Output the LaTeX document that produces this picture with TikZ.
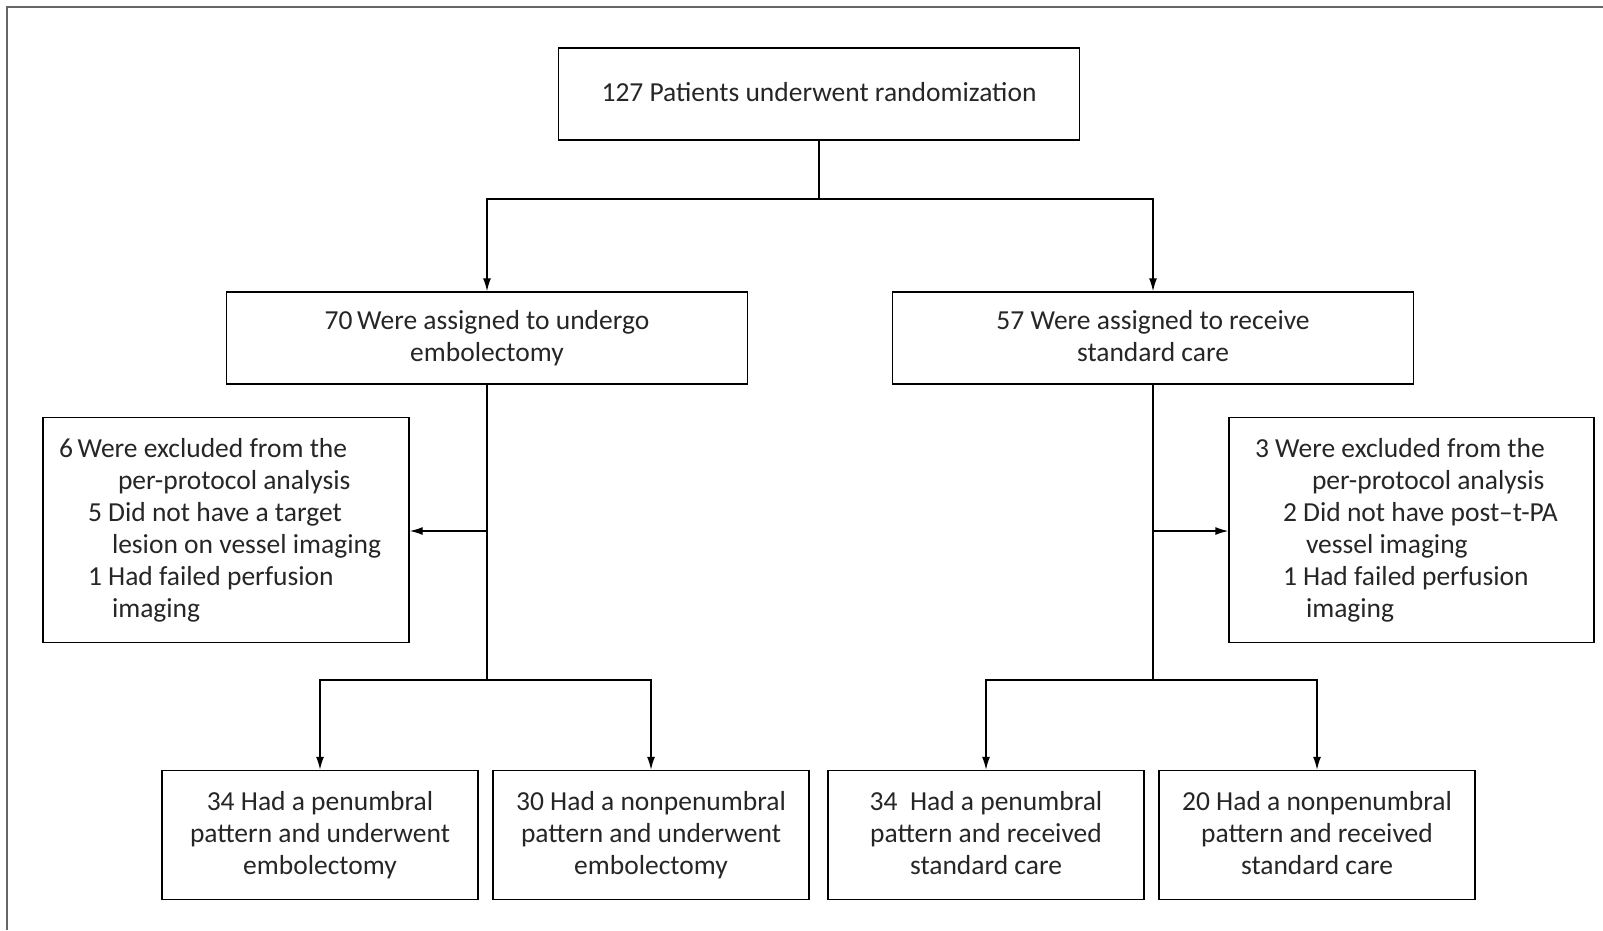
\documentclass[tikz,border=0pt]{standalone}
\usepackage{fontspec}
\setmainfont{Carlito}
\usetikzlibrary{arrows.meta}
\begin{document}
\begin{tikzpicture}[x=1pt,y=-1pt,
  box/.style={draw=black,line width=1.4pt,inner sep=0pt,align=center,font=\fontsize{27.5}{32}\selectfont,text=black!85},
  exbox/.style={draw=black,line width=1.4pt,inner ysep=0pt,align=flush left,font=\fontsize{27.5}{32}\selectfont,text=black!85},
  conn/.style={line width=1.4pt},
  arr/.style={line width=1.4pt,-{Latex[length=13pt,width=8pt]}},
  frame/.style={draw=black!60,line width=2.5pt}]
\useasboundingbox (0,0) rectangle (1603,930);
\fill[white] (0,0) rectangle (1603,930);
\draw[frame] (7,930) -- (7,7) -- (1603,7);
% main boxes
\node[box,minimum width=521pt,minimum height=92pt] (top) at (819,94) {127 Patients underwent randomization\vphantom{y}};
\node[box,minimum width=521pt,minimum height=92pt] (left) at (487,338) {70\,Were assigned to undergo\\embolectomy\vphantom{y}};
\node[box,minimum width=521pt,minimum height=92pt] (right) at (1153,338) {57 Were assigned to receive\\standard care\vphantom{y}};
% exclusion boxes
\node[exbox,inner xsep=16pt,text width=334pt,minimum height=225pt] (exL) at (226,530) {6\,Were excluded from the\\
\hspace*{59pt}per-protocol analysis\\
\hspace*{29pt}5 Did not have a target\\
\hspace*{53pt}lesion on vessel imaging\\
\hspace*{29pt}1 Had failed perfusion\\
\hspace*{53pt}imaging};
\node[exbox,inner xsep=26pt,text width=313pt,minimum height=225pt] (exR) at (1411.5,530) {3 Were excluded from the\\
\hspace*{57pt}per-protocol analysis\\
\hspace*{28pt}2 Did not have post–t-PA\\
\hspace*{51pt}vessel imaging\\
\hspace*{28pt}1 Had failed perfusion\\
\hspace*{51pt}imaging};
% bottom boxes
\node[box,minimum width=316pt,minimum height=129pt] (b1) at (320,835) {34 Had a penumbral\\pattern and underwent\\embolectomy\vphantom{y}};
\node[box,minimum width=316pt,minimum height=129pt] (b2) at (651,835) {30 Had a nonpenumbral\\pattern and underwent\\embolectomy\vphantom{y}};
\node[box,minimum width=316pt,minimum height=129pt] (b3) at (986,835) {34\ \ Had a penumbral\\pattern and received\\standard care\vphantom{y}};
\node[box,minimum width=316pt,minimum height=129pt] (b4) at (1317,835) {20 Had a nonpenumbral\\pattern and received\\standard care\vphantom{y}};
% junctions
\coordinate (s0) at (819,199);
\coordinate (sL) at (487,680);
\coordinate (sR) at (1153,680);
\coordinate (jL) at (487,531);
\coordinate (jR) at (1153,531);
% connectors
\draw[conn] (top.south) -- (s0);
\draw[arr] (s0) -| (left.north);
\draw[arr] (s0) -| (right.north);
\draw[conn] (left.south) -- (sL);
\draw[conn] (right.south) -- (sR);
\draw[arr] (sL) -| (b1.north);
\draw[arr] (sL) -| (b2.north);
\draw[arr] (sR) -| (b3.north);
\draw[arr] (sR) -| (b4.north);
\draw[arr] (jL) -- (exL.east |- jL);
\draw[arr] (jR) -- (exR.west |- jR);
\end{tikzpicture}
\end{document}
